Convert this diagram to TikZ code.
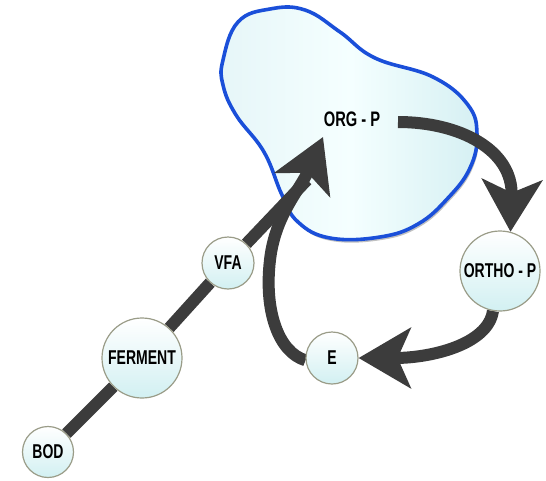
\documentclass[tikz,border=0pt]{standalone}
\usepackage{fontspec}
\newfontfamily\labfont{Liberation Sans}[FakeStretch=0.7]
\usetikzlibrary{arrows.meta,backgrounds}
\definecolor{arrowgray}{HTML}{3C3C3C}
\definecolor{blobblue}{HTML}{1A4FD9}
\definecolor{blobleft}{HTML}{E6F6F8}
\definecolor{blobright}{HTML}{D6F0F3}
\definecolor{nodecyan}{HTML}{D2F0F2}
\definecolor{nodeborder}{HTML}{9A9C88}
\tikzset{
  circnode/.style={circle, draw=nodeborder, line width=1.2pt, top color=white, bottom color=nodecyan, inner sep=0pt, font=\labfont\bfseries\fontsize{20}{20}\selectfont},
  plainlabel/.style={inner sep=0pt, font=\labfont\bfseries\fontsize{21}{21}\selectfont},
  thickline/.style={draw=arrowgray, line width=12pt},
  bigarrow/.style={draw=arrowgray, line width=12pt, -{Stealth[length=52pt, width=60pt, inset=13pt, fill=arrowgray]}},
}
\begin{document}
\begin{tikzpicture}[x=1pt,y=-1pt]
\useasboundingbox (0,0) rectangle (546,480);
% nodes
\node[circnode, minimum size=51pt] (BOD) at (48,452) {BOD};
\node[circnode, minimum size=80pt] (FERMENT) at (142,358) {FERMENT};
\node[circnode, minimum size=52pt] (VFA) at (228,263) {VFA};
\node[circnode, minimum size=80pt] (ORTHO) at (500,271) {ORTHO - P};
\node[circnode, minimum size=52pt] (E) at (332,358) {E};
\node[plainlabel] (ORG) at (352,119) {ORG - P};
\coordinate (orgtip) at (323,137);
\coordinate (join) at (307,180);
\coordinate (orgstart) at (398,122);
\begin{pgfonlayer}{background}
  % shadow of blob
  \fill[black!45, opacity=0.55] plot[smooth cycle, tension=0.7, shift={(1.5pt,-3pt)}] coordinates {
    (223,60) (238,22) (270,9) (305,10) (340,32) (375,58) (433,77) (468,105) (477,135)
    (470,168) (448,198) (418,224) (380,237) (330,238) (298,222) (282,195) (264,152) (236,115) (223,85)};
  % blob
  \draw[blobblue, line width=3.6pt, left color=blobleft, right color=blobright, middle color=white!96!cyan] plot[smooth cycle, tension=0.7] coordinates {
    (223,60) (238,22) (270,9) (305,10) (340,32) (375,58) (433,77) (468,105) (477,135)
    (470,168) (448,198) (418,224) (380,237) (330,238) (298,222) (282,195) (264,152) (236,115) (223,85)};
  % connectors
  \draw[thickline] (BOD) -- (FERMENT);
  \draw[thickline] (FERMENT) -- (VFA);
  \draw[thickline] (VFA) -- (join);
  \draw[bigarrow] (E.185) .. controls (278,352) and (264,310) .. (270,260)
                  .. controls (275,215) and (300,190) .. (orgtip);
  \draw[bigarrow] (orgstart) .. controls (460,122) and (513,150) .. (ORTHO.75);
  \draw[bigarrow] (ORTHO.-100) .. controls (488,345) and (430,358) .. (E.east);
\end{pgfonlayer}
\end{tikzpicture}
\end{document}
